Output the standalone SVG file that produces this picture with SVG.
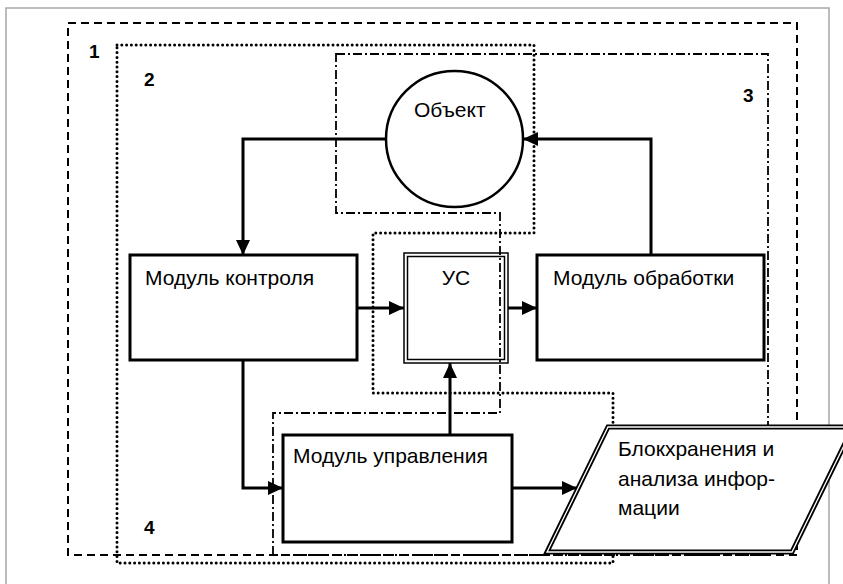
<svg xmlns="http://www.w3.org/2000/svg" width="843" height="584" viewBox="0 0 843 584">
<style>
.t{font-family:"Liberation Sans",Arial,sans-serif;font-size:21px;fill:#000}
.n{font-family:"Liberation Sans",Arial,sans-serif;font-size:19px;font-weight:bold;fill:#000}
.box{fill:#fff;stroke:#000;stroke-width:3}
.c{fill:none;stroke:#000;stroke-width:3;marker-end:url(#arr)}
.r1{fill:none;stroke:#000;stroke-width:2;stroke-dasharray:8 5}
.r2{fill:none;stroke:#000;stroke-width:3;stroke-dasharray:0 4.8;stroke-linecap:round}
.r3{fill:none;stroke:#000;stroke-width:1.8;stroke-dasharray:9 3 2 3}
</style>
<defs>
<marker id="arr" markerUnits="userSpaceOnUse" markerWidth="16" markerHeight="14" refX="15" refY="7" orient="auto"><path d="M0,0 L15,7 L0,14 Z" fill="#000"/></marker>
</defs>
<rect x="6" y="8" width="823" height="600" fill="none" stroke="#a6a6a6" stroke-width="1.5"/>
<g id="regions">
<rect class="r1" x="68" y="23" width="729" height="532"/>
<polygon class="r2" points="117,45 534,45 534,233 373,233 373,393 613,393 613,563 117,563"/>
<polygon class="r3" points="336,54 768,54 768,555 273,555 273,413 500,413 500,213 336,213"/>
<text class="n" x="89" y="58">1</text>
<text class="n" x="144" y="86">2</text>
<text class="n" x="743" y="102">3</text>
<text class="n" x="144" y="534">4</text>
</g>
<g id="connectors">
<polyline class="c" points="386,139 243,139 243,255"/>
<polyline class="c" points="651,255 651,139 523,139"/>
<polyline class="c" points="357,308 404,308"/>
<polyline class="c" points="508,308 537,308"/>
<polyline class="c" points="243,360 243,488 283,488"/>
<polyline class="c" points="450,435 450,363"/>
<polyline class="c" points="512,488 577,488"/>
</g>
<g id="obj">
<ellipse cx="454.5" cy="139" rx="68.5" ry="68" fill="none" stroke="#000" stroke-width="2.5"/>
<text class="t" x="414" y="117">Объект</text>
</g>
<g id="mk">
<rect class="box" x="130" y="255" width="227" height="105"/>
<text class="t" x="145" y="285">Модуль контроля</text>
</g>
<g id="us">
<rect x="404" y="253" width="104" height="110" fill="none" stroke="#000" stroke-width="1.5"/>
<rect x="407.5" y="256.5" width="97" height="103" fill="none" stroke="#000" stroke-width="1.5"/>
<text class="t" x="456" y="285" text-anchor="middle">УС</text>
</g>
<g id="mo">
<rect class="box" x="537" y="255" width="227" height="105"/>
<text class="t" x="553" y="285">Модуль обработки</text>
</g>
<g id="mu">
<rect class="box" x="283" y="435" width="229" height="107"/>
<text class="t" x="293" y="463">Модуль управления</text>
</g>
<g id="bh">
<polygon points="608,427 853,427 792,552 547,552" fill="#fff" stroke="#000" stroke-width="5"/>
<polygon points="608,427 853,427 792,552 547,552" fill="none" stroke="#fff" stroke-width="1.3"/>
<text class="t" x="618" y="456">Блокхранения и</text>
<text class="t" x="618" y="486">анализа инфор-</text>
<text class="t" x="618" y="515">мации</text>
</g>
</svg>
